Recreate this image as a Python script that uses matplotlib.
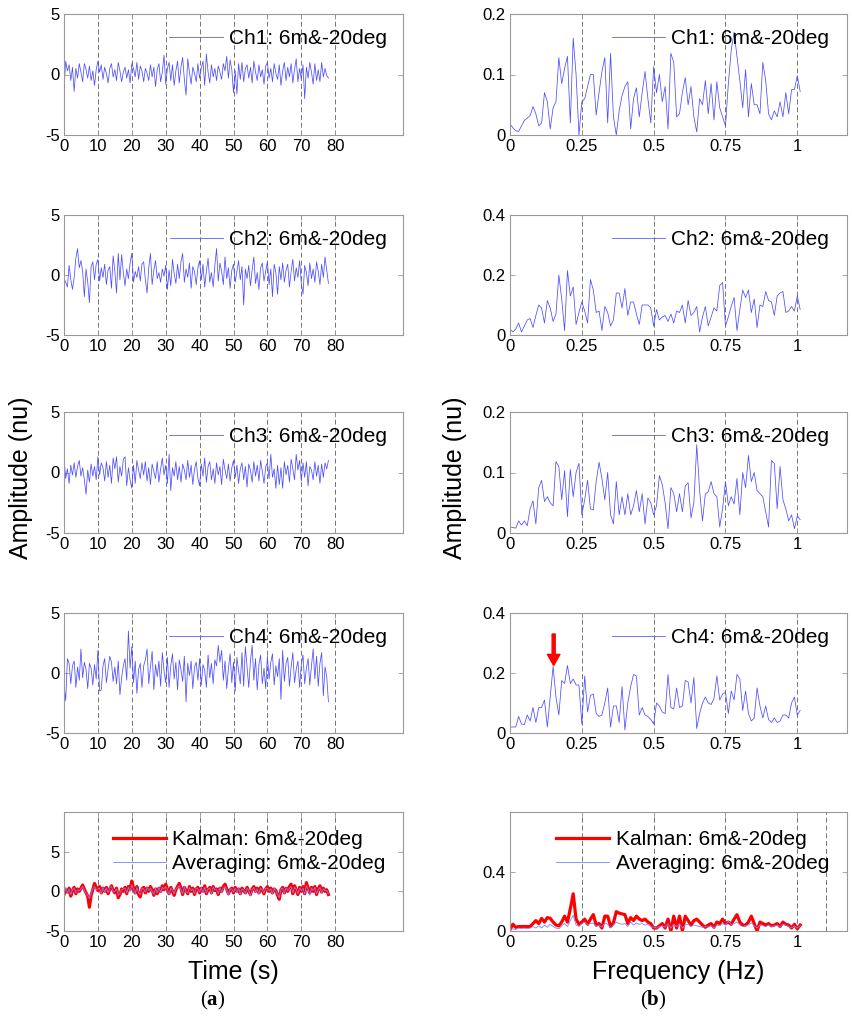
import numpy as np
import matplotlib
matplotlib.use('Agg')
import matplotlib.pyplot as plt

plt.rcParams['font.family'] = ['Liberation Sans', 'DejaVu Sans']
plt.rcParams['mathtext.fontset'] = 'custom'
plt.rcParams['mathtext.rm'] = 'Liberation Serif'
plt.rcParams['mathtext.bf'] = 'Liberation Serif:bold'

# ---------------- data ----------------
time_step = 0.5   # s
freq_step = 0.01  # Hz

ch1_time = [
    -1.2, 1.1, 0.3, 0.8, -0.5, 0.6, -1.4, 0.5, -0.3, 0.9,
    0.2, -0.6, 0.9, 0.4, -0.3, 0.7, -0.5, 0.3, -0.9, 0.4,
    1.1, 0.2, 0.8, -0.4, 0.6, 0.1, -0.7, 0.5, 0.9, -0.2,
    0.4, -0.5, 1.0, 0.3, -0.6, 0.2, 0.6, -0.3, 0.4, -0.7,
    0.9, 0.5, -0.2, 1.0, -0.4, 0.7, 0.3, -0.6, 0.5, 0.1,
    -0.5, 0.8, -0.2, 0.6, -1.0, 0.4, 0.9, -0.6, 0.2, 1.6,
    -0.8, 0.5, 1.0, -0.5, 0.8, -0.9, 0.3, 1.1, -0.7, 0.6,
    1.4, -0.4, -1.7, 1.3, 0.2, -0.8, 0.6, 0.1, -0.6, 0.9,
    -0.3, 0.5, 1.1, -0.9, 1.7, 0.2, -0.7, 0.8, -0.2, 0.5,
    -0.5, 0.7, 0.2, -0.4, 0.9, 0.3, 1.5, -0.3, 1.2, 0.4,
    -1.5, 0.3, -1.6, 0.9, -0.4, 1.0, -0.6, 0.5, 0.8, -0.3,
    0.6, -0.7, 1.1, 0.2, -0.5, 0.8, -0.2, 0.4, -0.8, 0.7,
    1.0, -0.3, 0.5, -0.6, 0.9, 0.1, -0.4, 0.8, -0.9, 0.3,
    1.0, -0.5, 0.6, -0.2, 0.9, -0.7, 0.4, 1.3, -0.6, 0.5,
    -0.4, 0.8, -2.0, 0.6, -0.3, 1.0, 0.2, -0.8, 0.9, -0.5,
    0.4, -0.6, 1.0, -0.2, 0.5, -0.1, -0.3]

ch2_time = [
    -0.3, -0.6, -1.0, 0.8, -0.4, -1.2, -0.2, 1.4, 2.2, 0.6,
    1.2, 0.3, -1.8, 0.5, -0.6, -2.3, 0.7, 1.1, -0.4, 0.9,
    1.3, -0.5, 0.6, -0.2, 0.9, -0.8, 0.4, 0.7, -1.1, 1.6,
    0.3, -1.5, 1.8, -0.4, 1.7, 0.2, -0.9, 0.5, -0.3, 1.0,
    1.8, -0.6, 0.3, -0.2, 0.7, -0.5, 0.9, 1.1, -0.4, -1.5,
    0.6, 1.8, -0.8, 0.4, 1.2, -0.3, 0.2, -0.6, 0.5, -0.1,
    0.8, -1.2, 0.4, -0.9, 1.3, 0.1, -0.7, 0.9, -0.3, 1.1,
    1.8, -0.6, 0.5, -0.2, 1.0, -1.1, 0.7, 0.3, -0.8, 0.6,
    1.2, -0.4, 0.9, -1.0, 0.3, 1.4, -0.6, 0.2, -1.0, 0.8,
    2.2, -0.5, 1.0, 0.3, -0.8, 1.5, -0.3, 0.6, -1.1, 0.4,
    0.9, -0.6, 0.3, 1.2, -0.4, 0.7, -2.5, 0.5, -0.3, 0.8,
    -0.9, 0.4, 1.5, -0.7, 0.2, -1.2, 0.6, 1.0, -0.5, 0.3,
    1.1, -0.8, 0.5, -1.8, 0.9, 0.2, -1.6, 0.7, -0.4, 1.0,
    -0.6, 0.4, 0.9, -1.0, 0.3, 1.3, -0.5, 0.6, -0.2, 1.2,
    -0.7, -1.6, 0.8, 0.2, -0.9, 1.0, -0.3, 0.5, -0.6, 1.1,
    0.3, -0.8, 0.9, -0.2, 1.5, 0.4, -0.7]

ch3_time = [
    1.2, -0.5, 0.3, -0.9, 0.6, -0.2, 0.8, -0.4, 0.5, 1.0,
    -0.3, 0.4, -0.6, -1.8, 0.2, -0.8, 0.7, -0.3, 0.5, -0.6,
    1.3, -0.2, 0.8, 0.4, -0.7, 0.9, -0.4, 0.6, -0.9, 1.2,
    0.3, 1.3, -0.8, 0.5, -0.3, 1.1, 1.3, -1.1, 0.4, -0.6,
    -1.3, 0.6, -0.9, 1.0, 0.2, -0.5, 0.8, -0.2, 0.9, -0.7,
    0.4, -1.0, 0.7, 0.1, -0.5, 0.9, -0.8, 0.3, 1.2, -0.2,
    0.6, -0.9, 1.5, -1.5, 0.4, -0.3, 0.9, -0.6, 0.5, -0.8,
    0.7, 0.2, -0.6, 1.0, -0.4, 0.6, -1.0, 0.3, 0.9, -0.5,
    -1.1, 0.7, -0.3, 1.2, -0.8, 0.5, 0.9, -0.6, 0.3, -0.9,
    0.8, -0.2, 0.5, -1.0, 1.1, 0.2, -0.5, 0.7, -0.7, 0.4,
    1.0, -0.4, 0.6, -0.9, 0.3, 0.8, -0.6, 0.5, -1.2, 0.7,
    0.2, -0.8, 0.9, -0.3, 0.6, -0.7, 1.0, 0.1, -0.9, 0.5,
    0.8, -0.5, 1.5, -0.4, 0.3, -1.3, 0.6, -1.0, 0.4, -1.3,
    0.9, -0.2, 0.6, -0.8, 1.1, 0.3, -0.6, 1.5, 0.2, 1.0,
    -0.7, 0.8, -0.4, 0.9, -1.1, 0.5, 0.2, -0.6, 0.9, -0.3,
    0.6, -0.9, 0.7, -0.4, 0.8, 0.3, 1.0]

ch4_time = [
    -1.0, -2.3, 1.2, 0.8, -0.9, 0.6, 1.0, -1.2, 0.5, -0.6,
    2.0, -0.4, 0.9, 0.3, -1.3, 0.8, 0.4, -1.0, 0.7, -0.5,
    1.9, -1.5, -1.4, 0.6, 1.2, -0.8, 0.3, 1.4, 0.9, -0.7,
    0.5, -0.9, 1.0, -1.8, -0.4, 0.6, 1.2, -0.6, 3.5, 0.4,
    2.2, -0.8, 1.0, -1.7, 0.3, 0.8, -1.2, 0.6, 1.1, 2.0,
    -0.9, 0.5, 1.8, -1.4, 0.7, -0.3, 1.0, -1.1, 1.7, 0.2,
    -0.8, 1.3, -1.2, 0.6, 1.6, -0.5, 0.9, -1.4, 1.1, 0.3,
    -0.7, 1.4, -2.4, 0.8, -0.2, 1.0, -1.3, 0.5, 0.9, -0.6,
    1.2, -1.0, 0.7, 0.2, -1.2, 1.5, -0.4, 0.8, -0.9, 1.1,
    0.6, 2.3, 0.9, 1.9, -0.6, 1.0, -1.3, 0.4, 1.6, -0.8,
    0.9, -1.5, 1.3, 0.2, -0.9, 1.7, -1.1, 2.2, 0.5, -1.2,
    1.0, 2.3, -0.6, 1.2, -1.4, 0.7, 1.5, -0.9, 0.4, -1.3,
    1.4, -0.5, 0.9, 1.6, -1.0, 0.6, -0.3, 1.2, -2.2, 1.9,
    -0.7, 0.8, 1.3, -1.1, 0.5, 1.7, -0.8, 0.3, 1.0, -1.2,
    0.7, 1.5, -0.9, 0.4, 1.2, -1.0, 0.6, 2.0, -0.5, 1.4,
    -1.1, 0.8, 1.7, -1.9, 0.5, -0.3, -2.4]

kalman_time = [
    -0.4, 0.2, -0.1, 0.4, -0.6, 0.1, 0.5, -0.3, 0.3, 0.0,
    0.4, 0.8, 0.3, -0.2, -0.6, -2.0, -0.5, 0.2, 1.0, 0.5,
    0.1, 0.6, -0.2, 0.4, 0.0, 0.5, -0.3, 0.3, 0.7, 0.1,
    -0.2, 0.4, -0.8, -0.4, 0.3, 0.0, 0.5, -0.3, 0.6, 0.2,
    1.3, 0.4, -0.2, 0.6, -0.4, -0.7, 0.3, 0.5, -0.2, 0.4,
    0.0, 0.6, 0.2, -0.5, 0.3, -0.3, 0.4, 0.0, 0.7, 0.2,
    0.9, 0.3, -0.3, 0.5, 0.0, -0.5, 0.2, 0.6, 1.0, 0.4,
    -0.4, 0.5, 0.1, -0.3, 0.6, 0.0, 0.4, -0.4, 0.3, 0.5,
    -0.2, 0.4, 0.0, 0.7, -0.3, 0.2, 0.5, -0.2, 0.6, 0.1,
    0.3, -0.4, 0.4, 0.0, 0.6, 0.9, 0.3, -0.3, 0.2, 0.4,
    -0.2, 0.5, 0.0, 0.3, -0.3, 0.4, 0.1, -0.2, 0.5, 0.0,
    -0.4, 0.3, 0.6, 0.0, 0.4, -0.2, 0.5, 0.1, -0.3, 0.3,
    0.6, 0.0, 0.4, -0.2, 0.3, 0.1, -0.5, -1.0, 0.2, 0.5,
    -0.2, 0.4, 0.0, 0.6, 0.9, -0.3, 0.7, 0.2, -0.4, 0.5,
    0.0, 0.6, -0.3, 1.1, 0.4, -0.2, 0.5, 0.0, 0.6, -0.4,
    0.3, 0.7, -0.1, 0.4, 0.0, 0.2, -0.4]

averaging_time = [
    -0.3, 0.5, -0.2, 0.3, -0.4, 0.2, 0.4, -0.2, 0.2, 0.1,
    0.3, 0.6, 0.2, -0.3, -0.5, -0.9, -0.3, 0.3, 0.6, 0.2,
    0.3, 0.4, -0.3, 0.5, -0.1, 0.4, -0.2, 0.5, 0.6, -0.1,
    0.0, 0.3, -0.5, -0.2, 0.2, 0.3, 0.4, -0.2, 0.5, 0.0,
    0.8, 0.3, -0.3, 0.5, -0.2, -0.4, 0.4, 0.3, -0.1, 0.5,
    0.1, 0.4, 0.0, -0.4, 0.4, -0.2, 0.5, -0.1, 0.5, 0.3,
    0.6, 0.2, -0.4, 0.4, 0.1, -0.3, 0.3, 0.5, 0.7, 0.2,
    -0.3, 0.6, -0.1, -0.2, 0.5, 0.1, 0.3, -0.3, 0.4, 0.3,
    -0.1, 0.5, -0.2, 0.5, -0.2, 0.3, 0.4, -0.4, 0.5, 0.2,
    0.2, -0.3, 0.5, -0.1, 0.4, 0.6, 0.2, -0.5, 0.3, 0.3,
    -0.1, 0.4, -0.2, 0.4, -0.4, 0.3, 0.2, -0.3, 0.4, 0.1,
    -0.6, 0.2, 0.5, -0.1, 0.3, -0.3, 0.4, 0.2, -0.2, 0.4,
    0.4, 0.1, 0.3, -0.3, 0.4, 0.0, -0.4, -0.8, 0.3, 0.4,
    -0.3, 0.5, 0.1, 0.4, 0.6, -0.2, 0.5, 0.3, -0.3, 0.4,
    0.1, 0.4, -0.4, 0.7, 0.3, -0.5, 0.4, 0.1, 0.5, -0.3,
    0.2, 0.5, -0.2, 0.3, 0.1, 0.1, -0.3]

ch1_spec = [
    0.018, 0.012, 0.007, 0.006, 0.015, 0.024, 0.028, 0.032, 0.047, 0.035,
    0.015, 0.020, 0.070, 0.055, 0.010, 0.045, 0.055, 0.128, 0.085, 0.110,
    0.130, 0.020, 0.160, 0.100, 0.000, 0.055, 0.060, 0.080, 0.100, 0.100,
    0.033, 0.070, 0.105, 0.128, 0.020, 0.135, 0.030, 0.000, 0.040, 0.065,
    0.080, 0.088, 0.010, 0.060, 0.078, 0.030, 0.070, 0.105, 0.060, 0.020,
    0.113, 0.070, 0.100, 0.055, 0.080, 0.010, 0.135, 0.120, 0.030, 0.035,
    0.070, 0.095, 0.050, 0.080, 0.030, 0.005, 0.060, 0.050, 0.090, 0.035,
    0.085, 0.025, 0.088, 0.045, 0.030, 0.015, 0.085, 0.140, 0.170, 0.130,
    0.090, 0.045, 0.108, 0.030, 0.085, 0.050, 0.050, 0.035, 0.120, 0.090,
    0.035, 0.025, 0.040, 0.030, 0.055, 0.030, 0.070, 0.035, 0.075, 0.075,
    0.098, 0.072]

ch2_spec = [
    0.020, 0.010, 0.020, 0.040, 0.010, 0.030, 0.050, 0.055, 0.025, 0.065,
    0.100, 0.090, 0.040, 0.115, 0.090, 0.045, 0.070, 0.200, 0.120, 0.015,
    0.215, 0.130, 0.160, 0.035, 0.075, 0.110, 0.080, 0.040, 0.185, 0.150,
    0.075, 0.080, 0.015, 0.095, 0.075, 0.030, 0.050, 0.140, 0.140, 0.090,
    0.155, 0.065, 0.110, 0.110, 0.070, 0.035, 0.100, 0.100, 0.100, 0.090,
    0.030, 0.085, 0.050, 0.060, 0.065, 0.045, 0.070, 0.040, 0.080, 0.075,
    0.100, 0.040, 0.115, 0.065, 0.075, 0.095, 0.010, 0.060, 0.095, 0.030,
    0.060, 0.090, 0.080, 0.165, 0.175, 0.030, 0.060, 0.095, 0.125, 0.015,
    0.085, 0.150, 0.125, 0.150, 0.075, 0.120, 0.025, 0.100, 0.095, 0.145,
    0.115, 0.110, 0.065, 0.130, 0.140, 0.145, 0.075, 0.080, 0.095, 0.080,
    0.130, 0.085]

ch3_spec = [
    0.010, 0.009, 0.008, 0.020, 0.013, 0.020, 0.012, 0.040, 0.053, 0.015,
    0.075, 0.087, 0.052, 0.060, 0.050, 0.045, 0.118, 0.110, 0.055, 0.103,
    0.027, 0.105, 0.060, 0.100, 0.115, 0.030, 0.055, 0.087, 0.040, 0.038,
    0.085, 0.117, 0.090, 0.055, 0.100, 0.030, 0.015, 0.085, 0.030, 0.060,
    0.030, 0.065, 0.030, 0.045, 0.070, 0.035, 0.065, 0.015, 0.058, 0.050,
    0.030, 0.045, 0.095, 0.080, 0.050, 0.007, 0.075, 0.065, 0.035, 0.065,
    0.035, 0.078, 0.083, 0.025, 0.050, 0.146, 0.070, 0.020, 0.065, 0.068,
    0.085, 0.065, 0.060, 0.010, 0.040, 0.085, 0.045, 0.060, 0.048, 0.090,
    0.030, 0.100, 0.075, 0.128, 0.085, 0.100, 0.070, 0.065, 0.060, 0.035,
    0.010, 0.120, 0.115, 0.040, 0.110, 0.055, 0.040, 0.020, 0.030, 0.007,
    0.028, 0.022]

ch4_spec = [
    0.020, 0.020, 0.020, 0.055, 0.030, 0.028, 0.060, 0.040, 0.085, 0.035,
    0.085, 0.085, 0.110, 0.020, 0.120, 0.222, 0.120, 0.060, 0.175, 0.165,
    0.225, 0.165, 0.180, 0.160, 0.160, 0.030, 0.190, 0.070, 0.125, 0.130,
    0.065, 0.055, 0.060, 0.100, 0.150, 0.020, 0.090, 0.090, 0.035, 0.155,
    0.010, 0.100, 0.155, 0.195, 0.190, 0.060, 0.085, 0.060, 0.055, 0.045,
    0.030, 0.100, 0.090, 0.070, 0.065, 0.195, 0.085, 0.080, 0.150, 0.085,
    0.090, 0.175, 0.170, 0.100, 0.185, 0.015, 0.065, 0.100, 0.120, 0.100,
    0.095, 0.115, 0.190, 0.110, 0.130, 0.135, 0.065, 0.140, 0.110, 0.195,
    0.180, 0.075, 0.140, 0.065, 0.040, 0.050, 0.150, 0.090, 0.050, 0.090,
    0.045, 0.035, 0.050, 0.035, 0.040, 0.060, 0.060, 0.050, 0.100, 0.120,
    0.060, 0.075]

kalman_spec = [
    0.010, 0.045, 0.025, 0.030, 0.030, 0.030, 0.030, 0.030, 0.050, 0.070,
    0.050, 0.085, 0.060, 0.090, 0.085, 0.060, 0.040, 0.035, 0.060, 0.100,
    0.060, 0.150, 0.250, 0.080, 0.045, 0.060, 0.080, 0.045, 0.080, 0.110,
    0.040, 0.050, 0.020, 0.100, 0.100, 0.030, 0.055, 0.130, 0.120, 0.115,
    0.110, 0.050, 0.090, 0.070, 0.100, 0.080, 0.070, 0.080, 0.060, 0.050,
    0.020, 0.020, 0.035, 0.050, 0.020, 0.080, 0.000, 0.100, 0.020, 0.100,
    0.000, 0.100, 0.070, 0.040, 0.070, 0.080, 0.060, 0.040, 0.025, 0.040,
    0.050, 0.025, 0.060, 0.050, 0.080, 0.050, 0.060, 0.045, 0.080, 0.110,
    0.060, 0.040, 0.040, 0.060, 0.100, 0.050, 0.000, 0.060, 0.050, 0.040,
    0.050, 0.035, 0.040, 0.050, 0.030, 0.060, 0.045, 0.040, 0.020, 0.045,
    0.015, 0.040]

averaging_spec = [
    0.010, 0.015, 0.010, 0.020, 0.015, 0.020, 0.015, 0.020, 0.030, 0.020,
    0.035, 0.020, 0.040, 0.025, 0.045, 0.030, 0.020, 0.015, 0.035, 0.050,
    0.030, 0.070, 0.105, 0.040, 0.030, 0.050, 0.060, 0.040, 0.050, 0.055,
    0.030, 0.040, 0.025, 0.055, 0.045, 0.020, 0.040, 0.060, 0.050, 0.045,
    0.050, 0.030, 0.060, 0.040, 0.055, 0.045, 0.050, 0.040, 0.045, 0.030,
    0.025, 0.020, 0.030, 0.035, 0.025, 0.050, 0.020, 0.045, 0.030, 0.050,
    0.020, 0.040, 0.045, 0.030, 0.040, 0.035, 0.030, 0.025, 0.030, 0.025,
    0.035, 0.020, 0.040, 0.035, 0.050, 0.040, 0.065, 0.045, 0.050, 0.060,
    0.040, 0.030, 0.035, 0.040, 0.055, 0.035, 0.020, 0.040, 0.035, 0.030,
    0.040, 0.030, 0.035, 0.040, 0.025, 0.045, 0.040, 0.030, 0.020, 0.035,
    0.020, 0.035]

channel_labels = ['Ch1: 6m&-20deg', 'Ch2: 6m&-20deg', 'Ch3: 6m&-20deg', 'Ch4: 6m&-20deg']
kalman_label = 'Kalman: 6m&-20deg'
averaging_label = 'Averaging: 6m&-20deg'

time_ticks = [0, 10, 20, 30, 40, 50, 60, 70, 80]
time_tick_labels = ['0', '10', '20', '30', '40', '50', '60', '70', '80']
freq_ticks = [0, 0.25, 0.5, 0.75, 1]
freq_tick_labels = ['0', '0.25', '0.5', '0.75', '1']
time_yticks = [-5, 0, 5]
time_ytick_labels = ['-5', '0', '5']
spec_yticks = [[0, 0.1, 0.2], [0, 0.2, 0.4], [0, 0.1, 0.2], [0, 0.2, 0.4], [0, 0.4]]
spec_ytick_labels = [['0', '0.1', '0.2'], ['0', '0.2', '0.4'], ['0', '0.1', '0.2'],
                     ['0', '0.2', '0.4'], ['0', '0.4']]
spec_ylims = [(0, 0.2), (0, 0.4), (0, 0.2), (0, 0.4), (0, 0.8)]
time_ylims = [(-5, 5), (-5, 5), (-5, 5), (-5, 5), (-5, 10)]
arrow_freq = 0.152
arrow_tip = 0.225
arrow_tail = 0.33

# ---------------- figure ----------------
W, H = 853, 1024
fig = plt.figure(figsize=(W / 100, H / 100), dpi=100)

row_px = [(14, 135), (215, 335), (412, 533), (613, 733), (812, 931)]
left_px = (64, 403)
right_px = (510, 847)

BLUE = (0.3, 0.3, 1.0)
LIGHT_BLUE = (0.5, 0.5, 1.0)
GRID = (0.45, 0.45, 0.45)
SPINE = (0.6, 0.6, 0.6)


def make_ax(xpx, ypx):
    ax = fig.add_axes([xpx[0] / W, 1 - ypx[1] / H,
                       (xpx[1] - xpx[0]) / W, (ypx[1] - ypx[0]) / H])
    for s in ax.spines.values():
        s.set_color(SPINE)
        s.set_linewidth(0.8)
    ax.tick_params(direction='in', length=3.5, width=0.6, color=SPINE,
                   labelsize=12, labelcolor='black', top=True, right=True, pad=3)
    return ax


def style_legend(ax, anchor_x, anchor_y):
    leg = ax.legend(loc='center right', bbox_to_anchor=(anchor_x, anchor_y),
                    frameon=False, fontsize=15, handlelength=2.55,
                    handletextpad=0.3, labelspacing=0.25, borderpad=0.4,
                    borderaxespad=0)
    return leg


time_series = [ch1_time, ch2_time, ch3_time, ch4_time]
spec_series = [ch1_spec, ch2_spec, ch3_spec, ch4_spec]

for r in range(5):
    # ---- time domain ----
    ax = make_ax(left_px, row_px[r])
    if r < 4:
        y = np.array(time_series[r])
        t = np.arange(len(y)) * time_step
        ax.plot(t, y, color=BLUE, lw=0.55, label=channel_labels[r])
        style_legend(ax, 0.977, 0.795)
    else:
        yk = np.array(kalman_time)
        ya = np.array(averaging_time)
        t = np.arange(len(yk)) * time_step
        ax.plot(t, yk, color='red', lw=2.3, label=kalman_label)
        ax.plot(t, ya, color=LIGHT_BLUE, lw=0.6, label=averaging_label)
        style_legend(ax, 0.974, 0.668)
    ax.set_xlim(0, 100)
    ax.set_ylim(*time_ylims[r])
    ax.set_xticks(time_ticks)
    ax.set_xticklabels(time_tick_labels)
    ax.set_yticks(time_yticks)
    ax.set_yticklabels(time_ytick_labels)
    for xt in time_ticks[1:]:
        ax.axvline(xt, color=GRID, lw=0.7, ls=(0, (5, 3)), zorder=0.5)

    # ---- frequency domain ----
    ax2 = make_ax(right_px, row_px[r])
    if r < 4:
        s = np.array(spec_series[r])
        f = np.arange(len(s)) * freq_step
        ax2.plot(f, s, color=BLUE, lw=0.55, label=channel_labels[r])
        style_legend(ax2, 0.971, 0.795)
    else:
        sk = np.array(kalman_spec)
        sa = np.array(averaging_spec)
        f = np.arange(len(sk)) * freq_step
        ax2.plot(f, sk, color='red', lw=2.3, label=kalman_label)
        ax2.plot(f, sa, color=LIGHT_BLUE, lw=0.6, label=averaging_label)
        style_legend(ax2, 0.971, 0.668)
    ax2.set_xlim(0, 1.173)
    ax2.set_ylim(*spec_ylims[r])
    ax2.set_xticks(freq_ticks)
    ax2.set_xticklabels(freq_tick_labels)
    ax2.set_yticks(spec_yticks[r])
    ax2.set_yticklabels(spec_ytick_labels[r])
    grid_lines = freq_ticks[1:] + ([1.1] if r == 4 else [])
    for xt in grid_lines:
        ax2.axvline(xt, color=GRID, lw=0.7, ls=(0, (5, 3)), zorder=0.5)
    if r == 3:
        ax2.annotate('', xy=(arrow_freq, arrow_tip), xytext=(arrow_freq, arrow_tail),
                     arrowprops=dict(facecolor='red', edgecolor='red', width=2.2,
                                     headwidth=9, headlength=8))

# ---------------- labels ----------------
fig.text(21 / W, 1 - 478 / H, 'Amplitude (nu)', rotation=90, fontsize=18,
         ha='center', va='center')
fig.text(455 / W, 1 - 478 / H, 'Amplitude (nu)', rotation=90, fontsize=18,
         ha='center', va='center')
fig.text(233 / W, 1 - 972 / H, 'Time (s)', fontsize=18, ha='center', va='center')
fig.text(678 / W, 1 - 972 / H, 'Frequency (Hz)', fontsize=18, ha='center', va='center')
fig.text(213 / W, 1 - 1000 / H, r'($\mathbf{a}$)', fontsize=15, ha='center', va='center',
         family='Liberation Serif')
fig.text(653 / W, 1 - 1000 / H, r'($\mathbf{b}$)', fontsize=15, ha='center', va='center',
         family='Liberation Serif')

fig.savefig('out.png', dpi=100)
